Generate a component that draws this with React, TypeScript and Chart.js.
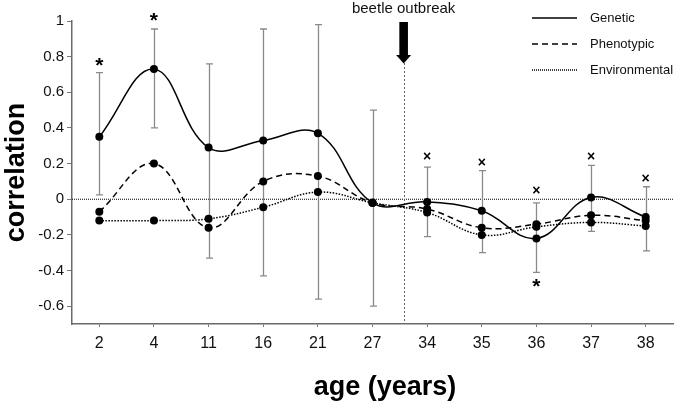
import React, { useEffect, useRef } from 'react';
import { Chart, registerables } from 'chart.js';

Chart.register(...registerables);

// ---------- data ----------
const ages = ['2', '4', '11', '16', '21', '27', '34', '35', '36', '37', '38'];
const genetic = [0.35, 0.73, 0.29, 0.33, 0.37, -0.02, -0.015, -0.065, -0.22, 0.01, -0.1];
const phenotypic = [-0.07, 0.2, -0.16, 0.1, 0.13, -0.02, -0.055, -0.16, -0.14, -0.09, -0.12];
const environmental = [-0.12, -0.12, -0.11, -0.045, 0.04, -0.02, -0.075, -0.2, -0.155, -0.13, -0.15];
const errUpper = [0.71, 0.955, 0.76, 0.955, 0.98, 0.5, 0.18, 0.16, -0.02, 0.19, 0.07];
const errLower = [0.025, 0.4, -0.33, -0.43, -0.56, -0.6, -0.21, -0.3, -0.41, -0.18, -0.29];
const topMarks = ['*', '*', '', '', '', '', '×', '×', '×', '×', '×'];
const topMarkValues = [0.77, 1.02, null, null, null, null, 0.24, 0.21, 0.05, 0.24, 0.12];
const bottomMarks = ['', '', '', '', '', '', '', '', '*', '', ''];
const bottomMarkValues = [null, null, null, null, null, null, null, null, -0.47, null, null];
const yTicks = [-0.6, -0.4, -0.2, 0, 0.2, 0.4, 0.6, 0.8, 1];
const yMin = -0.7;
const yMax = 1;
const outbreakIndex = 5.57;
const outbreakLabel = 'beetle outbreak';
const seriesNames = ['Genetic', 'Phenotypic', 'Environmental'];
const xTitle = 'age (years)';
const yTitle = 'correlation';

const FONT = '"Liberation Sans", Arial, Helvetica, sans-serif';

const dashes: number[][] = [[], [6, 4], [1.5, 1.5]];

const drawMark = (ctx: CanvasRenderingContext2D, ch: string, cx: number, cy: number) => {
  ctx.save();
  ctx.fillStyle = '#000';
  ctx.font = ch === '*' ? `bold 21px ${FONT}` : `bold 14px ${FONT}`;
  ctx.textAlign = 'center';
  ctx.textBaseline = 'alphabetic';
  const m = ctx.measureText(ch);
  const asc = m.actualBoundingBoxAscent;
  const desc = m.actualBoundingBoxDescent;
  ctx.fillText(ch, cx, cy + (asc - desc) / 2);
  ctx.restore();
};

const decorPlugin = {
  id: 'decor',
  beforeDatasetsDraw(chart: any) {
    const { ctx, chartArea } = chart;
    const xs = chart.scales.x;
    const ys = chart.scales.y;
    ctx.save();
    // zero line
    const y0 = ys.getPixelForValue(0);
    ctx.strokeStyle = '#000';
    ctx.lineWidth = 1;
    ctx.setLineDash([1, 1]);
    ctx.beginPath();
    ctx.moveTo(chartArea.left, y0);
    ctx.lineTo(chartArea.right, y0);
    ctx.stroke();
    // outbreak vertical line
    const xo = Math.round(xs.getPixelForValue(outbreakIndex)) + 0.5;
    ctx.strokeStyle = '#666';
    ctx.setLineDash([2, 2]);
    ctx.beginPath();
    ctx.moveTo(xo, 63);
    ctx.lineTo(xo, chartArea.bottom);
    ctx.stroke();
    ctx.setLineDash([]);
    // error bars
    ctx.strokeStyle = '#8a8a8a';
    ctx.lineWidth = 1.3;
    ages.forEach((_, i) => {
      const x = Math.round(xs.getPixelForValue(i)) + 0.5;
      const yu = ys.getPixelForValue(errUpper[i]);
      const yl = ys.getPixelForValue(errLower[i]);
      ctx.beginPath();
      ctx.moveTo(x, yu);
      ctx.lineTo(x, yl);
      ctx.moveTo(x - 3.5, yu);
      ctx.lineTo(x + 3.5, yu);
      ctx.moveTo(x - 3.5, yl);
      ctx.lineTo(x + 3.5, yl);
      ctx.stroke();
    });
    ctx.restore();
  },
  afterDatasetsDraw(chart: any) {
    const { ctx, chartArea } = chart;
    const xs = chart.scales.x;
    const ys = chart.scales.y;
    // significance marks
    ages.forEach((_, i) => {
      const tv = topMarkValues[i];
      if (topMarks[i] && tv !== null) drawMark(ctx, topMarks[i], xs.getPixelForValue(i), ys.getPixelForValue(tv));
      const bv = bottomMarkValues[i];
      if (bottomMarks[i] && bv !== null) drawMark(ctx, bottomMarks[i], xs.getPixelForValue(i), ys.getPixelForValue(bv));
    });
    ctx.save();
    // arrow
    const xo = xs.getPixelForValue(outbreakIndex);
    ctx.fillStyle = '#000';
    ctx.fillRect(xo - 4.3, 22, 8.6, 34);
    ctx.beginPath();
    ctx.moveTo(xo - 7.5, 55);
    ctx.lineTo(xo + 7.5, 55);
    ctx.lineTo(xo, 63.5);
    ctx.closePath();
    ctx.fill();
    // outbreak label
    ctx.font = `15px ${FONT}`;
    ctx.textAlign = 'center';
    ctx.textBaseline = 'middle';
    ctx.fillStyle = '#111';
    ctx.fillText(outbreakLabel, xo, 8.5);
    // legend
    ctx.font = `13px ${FONT}`;
    ctx.textAlign = 'left';
    const rows = [18, 44, 70];
    seriesNames.forEach((name, i) => {
      ctx.strokeStyle = '#000';
      ctx.lineWidth = 1.5;
      ctx.setLineDash(i === 2 ? [1, 1] : dashes[i]);
      ctx.beginPath();
      ctx.moveTo(532, rows[i]);
      ctx.lineTo(577, rows[i]);
      ctx.stroke();
      ctx.setLineDash([]);
      ctx.fillStyle = '#111';
      ctx.fillText(name, 590, rows[i]);
    });
    // axis titles
    ctx.fillStyle = '#000';
    ctx.font = `bold 27px ${FONT}`;
    ctx.textAlign = 'center';
    ctx.textBaseline = 'alphabetic';
    ctx.fillText(xTitle, 385, 395);
    ctx.translate(24, (chartArea.top + chartArea.bottom) / 2);
    ctx.rotate(-Math.PI / 2);
    ctx.fillText(yTitle, 0, 0);
    ctx.restore();
  },
};

export default function App() {
  const canvasRef = useRef<HTMLCanvasElement | null>(null);

  useEffect(() => {
    document.body.style.margin = '0';
    const canvas = canvasRef.current;
    if (!canvas) return;
    const mk = (label: string, data: number[], i: number) => ({
      label,
      data,
      borderColor: '#000',
      backgroundColor: '#000',
      borderWidth: 1.5,
      borderDash: dashes[i],
      pointRadius: 4,
      pointBackgroundColor: '#000',
      pointBorderWidth: 0,
      tension: 0.4,
      fill: false,
    });
    const chart = new Chart(canvas, {
      type: 'line',
      data: {
        labels: ages,
        datasets: [
          mk(seriesNames[2], environmental, 2),
          mk(seriesNames[1], phenotypic, 1),
          mk(seriesNames[0], genetic, 0),
        ],
      },
      options: {
        responsive: false,
        animation: false,
        events: [],
        layout: { padding: { top: 21, right: 4, left: 0, bottom: 0 } },
        plugins: { legend: { display: false }, tooltip: { enabled: false } },
        scales: {
          x: {
            type: 'category',
            offset: true,
            grid: { display: true, drawOnChartArea: false, drawTicks: true, tickLength: 3, offset: false, color: '#777', lineWidth: 1 },
            border: { display: true, color: '#6a6a6a', width: 1.5 },
            ticks: { color: '#111', font: { family: FONT, size: 16 }, padding: 7, autoSkip: false, maxRotation: 0 },
            afterFit: (s: any) => { s.height = 77; },
          },
          y: {
            type: 'linear',
            min: yMin,
            max: yMax,
            afterBuildTicks: (s: any) => { s.ticks = yTicks.map((v) => ({ value: v })); },
            grid: { display: true, drawOnChartArea: false, drawTicks: true, tickLength: 5, color: '#777', lineWidth: 1 },
            border: { display: true, color: '#6a6a6a', width: 1.5 },
            ticks: {
              color: '#111',
              font: { family: FONT, size: 15 },
              padding: 3,
              callback: (v: any) => String(parseFloat(Number(v).toFixed(1))),
            },
            afterFit: (s: any) => { s.width = 72; },
          },
        },
      },
      plugins: [decorPlugin],
    });
    return () => chart.destroy();
  }, []);

  return (
    <div style={{ width: 677, height: 401 }}>
      <canvas ref={canvasRef} width={677} height={401} style={{ display: 'block' }} />
    </div>
  );
}
